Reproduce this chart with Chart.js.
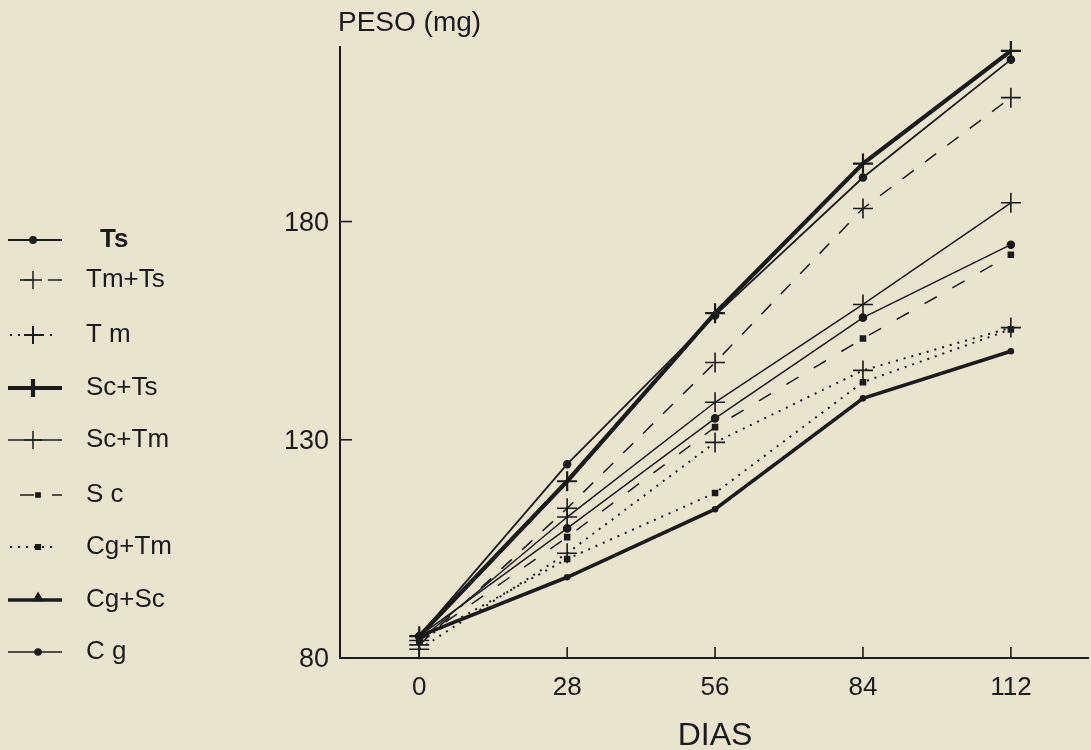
<!DOCTYPE html>
<html><head><meta charset="utf-8">
<script src="https://cdn.jsdelivr.net/npm/chart.js@4/dist/chart.umd.min.js"></script>
<style>
html,body{margin:0;padding:0;background:#e9e4d0;}
#wrap{position:relative;width:1091px;height:750px;}
</style></head><body>
<div id="wrap"><canvas id="c"></canvas></div>
<script>
// ---- data ----
const days = [0, 28, 56, 84, 112];
const ts   = [85, 124.4, 158.5, 190.1, 217.1];
const tmTs = [83, 114.3, 147.7, 183.0, 208.4];
const tm   = [82, 104.0, 129.4, 145.9, 155.7];
const scTs = [85, 120.5, 159.0, 193.3, 219.1];
const scTm = [84, 112.3, 138.6, 161.0, 184.3];
const sc   = [84, 107.7, 132.9, 153.2, 172.4];
const cgTm = [84, 102.7, 117.8, 143.2, 155.3];
const cgSc = [85, 98.5, 114.1, 139.5, 150.3];
const cg   = [85, 109.7, 134.9, 158.0, 174.7];
const seriesNames = ['Ts', 'Tm+Ts', 'T m', 'Sc+Ts', 'Sc+Tm', 'S c', 'Cg+Tm', 'Cg+Sc', 'C g'];
const xTickValues = [0, 28, 56, 84, 112];
const yTickValues = [80, 130, 180];
const yTitle = 'PESO (mg)';
const xTitle = 'DIAS';

const INK = '#1b1b1b';
const pts = arr => arr.map((v, i) => ({x: days[i], y: v}));

function ds(label, values, style) {
  return Object.assign({
    label, data: pts(values), borderColor: INK, backgroundColor: INK,
    pointBorderColor: INK, pointBackgroundColor: INK,
    tension: 0, fill: false, pointBorderWidth: 1.6, clip: false
  }, style);
}

const datasets = [
  ds(seriesNames[0], ts,   {borderWidth: 1.8, pointStyle: 'circle', pointRadius: 3.5}),
  ds(seriesNames[1], tmTs, {borderWidth: 1.5, borderDash: [14, 14], pointStyle: 'cross', pointRadius: 10}),
  ds(seriesNames[2], tm,   {borderWidth: 2,   borderDash: [2, 6], pointStyle: 'cross', pointRadius: 10}),
  ds(seriesNames[3], scTs, {borderWidth: 4.2, pointStyle: 'cross', pointRadius: 10, pointBorderWidth: 2.2}),
  ds(seriesNames[4], scTm, {borderWidth: 1.5, pointStyle: 'cross', pointRadius: 10}),
  ds(seriesNames[5], sc,   {borderWidth: 1.5, borderDash: [14, 18], pointStyle: 'rect', pointRadius: 3.5}),
  ds(seriesNames[6], cgTm, {borderWidth: 2,   borderDash: [2, 6], pointStyle: 'rect', pointRadius: 3.5}),
  ds(seriesNames[7], cgSc, {borderWidth: 3.6, pointStyle: 'circle', pointRadius: 2.5}),
  ds(seriesNames[8], cg,   {borderWidth: 1.5, pointStyle: 'circle', pointRadius: 3.5})
];

const FONT = "'Liberation Sans', Arial, sans-serif";

const decor = {
  id: 'decor',
  afterDraw(chart) {
    const ctx = chart.ctx;
    const xs = chart.scales.x, ys = chart.scales.y;
    const ca = chart.chartArea;
    ctx.save();
    ctx.strokeStyle = INK; ctx.lineWidth = 1.6; ctx.setLineDash([]);
    // inward ticks
    xTickValues.forEach(v => {
      const px = xs.getPixelForValue(v);
      ctx.beginPath(); ctx.moveTo(px, ca.bottom); ctx.lineTo(px, ca.bottom - 11); ctx.stroke();
    });
    yTickValues.forEach(v => {
      const py = ys.getPixelForValue(v);
      ctx.beginPath(); ctx.moveTo(ca.left, py); ctx.lineTo(ca.left + 12, py); ctx.stroke();
    });
    // titles
    ctx.fillStyle = INK;
    ctx.font = '28px ' + FONT;
    ctx.textBaseline = 'middle'; ctx.textAlign = 'left';
    ctx.fillText(yTitle, 338, 23);
    ctx.font = '32px ' + FONT;
    ctx.textAlign = 'center';
    ctx.fillText(xTitle, xs.getPixelForValue(56), 736);
    // legend
    const rows = [240, 280, 335, 388, 440, 495, 547, 600, 652];
    chart.data.datasets.forEach((d, i) => {
      const y = rows[i];
      const dashed = d.borderDash && d.borderDash[0] > 4;
      const x0 = dashed ? 20 : (d.borderDash ? 10 : 8);
      const x1 = d.borderDash && !dashed ? 58 : 62;
      ctx.save();
      ctx.strokeStyle = INK; ctx.fillStyle = INK;
      ctx.lineWidth = d.borderWidth;
      ctx.setLineDash(d.borderDash || []);
      ctx.beginPath(); ctx.moveTo(x0, y); ctx.lineTo(x1, y); ctx.stroke();
      ctx.setLineDash([]);
      const mx = d.pointStyle === 'cross' || i === 0 ? 33 : 38;
      Chart.helpers.drawPoint(ctx, {
        pointStyle: i === 7 ? 'triangle' : d.pointStyle, rotation: 0,
        radius: d.pointStyle === 'cross' ? 9 : 3,
        borderWidth: d.pointBorderWidth
      }, mx, i === 7 ? y - 2 : y);
      ctx.restore();
      ctx.fillStyle = INK;
      ctx.textAlign = 'left'; ctx.textBaseline = 'middle';
      ctx.font = (i === 0 ? 'bold ' : '') + '26px ' + FONT;
      ctx.fillText(d.label, i === 0 ? 100 : 86, y);
    });
    ctx.restore();
  }
};

new Chart(document.getElementById('c'), {
  type: 'line',
  data: {datasets},
  options: {
    responsive: true, maintainAspectRatio: false, animation: false,
    devicePixelRatio: 1,
    layout: {autoPadding: false, padding: {top: 47, right: 3, left: 0, bottom: 0}},
    plugins: {legend: {display: false}, tooltip: {enabled: false}},
    scales: {
      x: {
        type: 'linear', min: -15, max: 126.6,
        afterBuildTicks: s => { s.ticks = xTickValues.map(v => ({value: v})); },
        afterFit: s => { s.height = 92; s.paddingLeft = 0; s.paddingRight = 0; },
        grid: {display: false, drawTicks: false, tickLength: 0},
        border: {display: true, color: INK, width: 2},
        ticks: {color: INK, font: {family: FONT, size: 26}, padding: 14, maxRotation: 0, autoSkip: false}
      },
      y: {
        type: 'linear', min: 80, max: 220,
        afterBuildTicks: s => { s.ticks = yTickValues.map(v => ({value: v})); },
        afterFit: s => { s.width = 340; s.paddingTop = 0; s.paddingBottom = 0; },
        grid: {display: false, drawTicks: false, tickLength: 0},
        border: {display: true, color: INK, width: 2},
        ticks: {color: INK, font: {family: FONT, size: 27}, padding: 11, labelOffset: 2}
      }
    }
  },
  plugins: [decor]
});
</script>
</body></html>
